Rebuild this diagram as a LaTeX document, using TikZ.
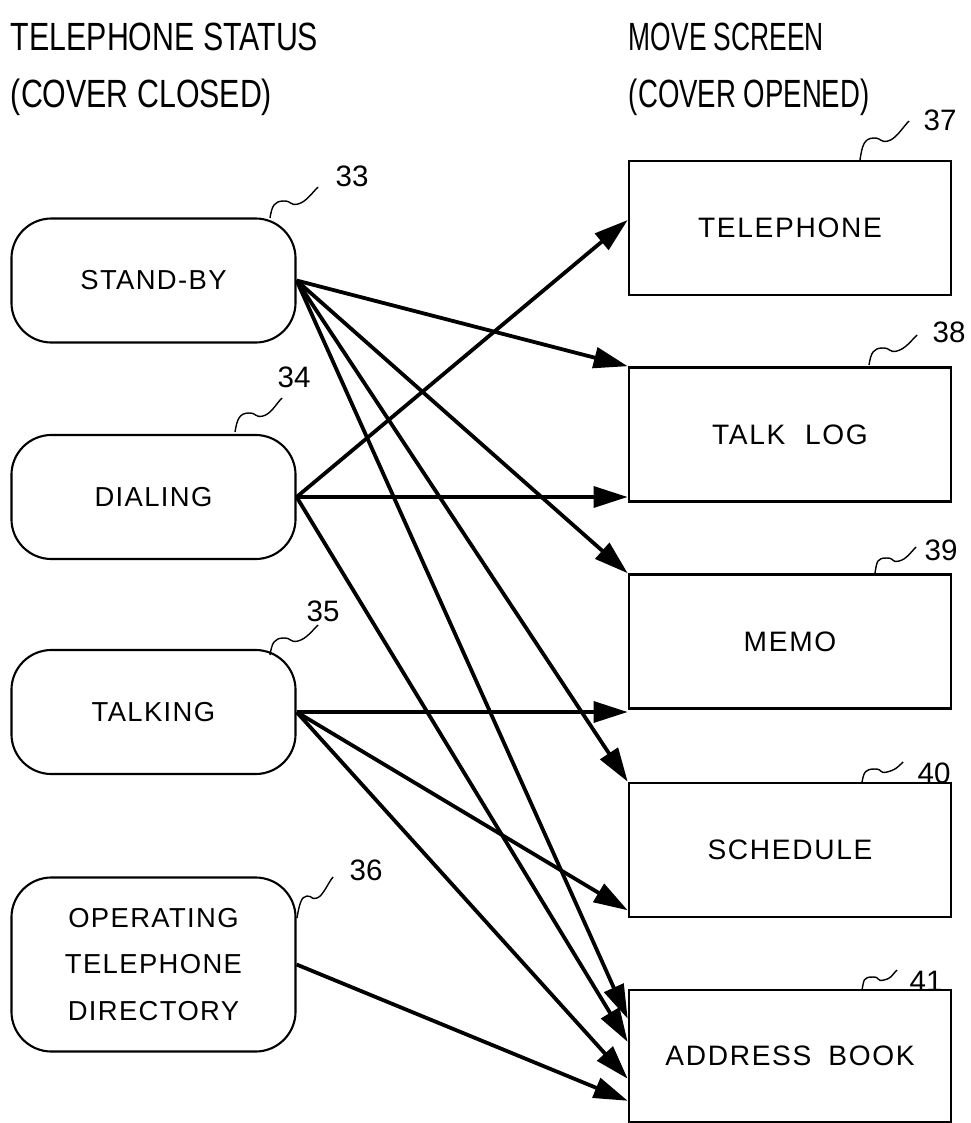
\documentclass[tikz,border=0pt]{standalone}
\usepackage{fontspec}
\setmainfont{Liberation Sans}
\usetikzlibrary{arrows.meta,calc,positioning}

\begin{document}
\begin{tikzpicture}[x=0.025cm,y=-0.025cm,
  state/.style={draw,line width=1.5pt,rounded corners=1cm,minimum width=7.1cm,minimum height=3.1cm,align=center,
    font=\fontsize{19.5}{33}\selectfont\addfontfeatures{LetterSpace=5}},
  screen/.style={draw,line width=1.8pt,minimum width=8.05cm,minimum height=3.35cm,
    font=\fontsize{20}{22}\selectfont\addfontfeatures{LetterSpace=6}},
  num/.style={font=\fontsize{21}{24}\selectfont},
  head/.style={anchor=west,font=\fontsize{28}{32}\selectfont},
  arr/.style={line width=2.7pt,-{Triangle[length=0.85cm,width=0.52cm]}},
  wave/.style={line width=1pt}]
  \useasboundingbox (0,0) rectangle (971,1123);

  \node[head] (st1) at (6,37) {\scalebox{0.77}[1]{TELEPHONE STATUS}};
  \node[head] (st2) at (6,97) {\scalebox{0.77}[1]{(COVER CLOSED)}};
  \node[head] (mv1) at (624,37) {\scalebox{0.67}[1]{MOVE SCREEN}};
  \node[head] (mv2) at (624,97) {\scalebox{0.7}[1]{(COVER OPENED)}};

  \node[state] (standby) at (153.5,280.5) {STAND-BY};
  \node[state] (dialing) at (153.5,497) {DIALING};
  \node[state] (talking) at (153.5,712) {TALKING};
  \node[state,minimum height=4.35cm] (directory) at (153.5,964.5) {OPERATING\\TELEPHONE\\DIRECTORY};

  \node[screen] (telephone) at (790,228) {TELEPHONE};
  \node[screen] (talklog) at (790,434.5) {TALK\hspace{0.7em}LOG};
  \node[screen] (memo) at (790,641.5) {MEMO};
  \node[screen] (schedule) at (790,850) {SCHEDULE};
  \node[screen,minimum height=3.3cm] (addrbook) at (790,1056) {ADDRESS\hspace{0.6em}BOOK};

  \node[num] (n33) at (352,176) {33};
  \node[num] (n34) at (294,377) {34};
  \node[num] (n35) at (323,611) {35};
  \node[num] (n36) at (366,870) {36};
  \node[num] (n37) at (940,120) {37};
  \node[num] (n38) at (949,332) {38};
  \node[num] (n39) at (941,550) {39};
  \node[num] (n40) at (934,773) {40};
  \node[num] (n41) at (926,981) {41};

  \draw[wave] (270,218) .. controls +(2,-12) and +(-10,0) .. ++(14,-17) .. controls +(8,0) and +(-8,2) .. ++(14,3) .. controls +(8,-2) and +(-6,6) .. ++(20,-17);
  \draw[wave] (235,432) .. controls +(2,-12) and +(-10,0) .. ++(14,-19) .. controls +(8,0) and +(-8,2) .. ++(14,3) .. controls +(8,-2) and +(-6,6) .. ++(19,-18);
  \draw[wave] (270,655) .. controls +(2,-12) and +(-10,0) .. ++(14,-17) .. controls +(8,0) and +(-8,2) .. ++(14,3) .. controls +(8,-2) and +(-6,6) .. ++(20,-16);
  \draw[wave] (297,918) .. controls +(2,-12) and +(-6,0) .. ++(10,-22) .. controls +(6,0) and +(-6,2) .. ++(10,2) .. controls +(6,-2) and +(-5,6) .. ++(16,-21);
  \draw[wave] (860,160) .. controls +(2,-14) and +(-10,0) .. ++(14,-22) .. controls +(8,0) and +(-8,2) .. ++(14,3) .. controls +(8,-2) and +(-6,6) .. ++(21,-20);
  \draw[wave] (869,365) .. controls +(2,-12) and +(-10,0) .. ++(14,-17) .. controls +(8,0) and +(-8,2) .. ++(14,3) .. controls +(8,-2) and +(-6,6) .. ++(20,-16);
  \draw[wave] (875,573) .. controls +(2,-12) and +(-10,0) .. ++(12,-15) .. controls +(8,0) and +(-8,2) .. ++(12,3) .. controls +(8,-2) and +(-6,6) .. ++(17,-14);
  \draw[wave] (862,782) .. controls +(2,-10) and +(-10,0) .. ++(13,-13) .. controls +(8,0) and +(-8,2) .. ++(12,3) .. controls +(8,-2) and +(-6,6) .. ++(16,-10);
  \draw[wave] (862,990) .. controls +(2,-10) and +(-10,0) .. ++(11,-13) .. controls +(8,0) and +(-8,2) .. ++(11,3) .. controls +(8,-2) and +(-6,6) .. ++(13,-10);

  \draw[arr] (standby.east) -- (talklog.north west);
  \draw[arr] (standby.east) -- (memo.north west);
  \draw[arr] (standby.east) -- (schedule.north west);
  \draw[arr] (standby.east) -- ([yshift=-0.75cm]addrbook.north west);
  \draw[arr] (dialing.east) -- ([yshift=0.2cm]telephone.west);
  \draw[arr] (dialing.east) -- (dialing.east -| talklog.west);
  \draw[arr] (dialing.east) -- ([yshift=-1.33cm]addrbook.north west);
  \draw[arr] (talking.east) -- (talking.east -| memo.west);
  \draw[arr] (talking.east) -- ([yshift=0.2cm]schedule.south west);
  \draw[arr] (talking.east) -- ([yshift=-2.25cm]addrbook.north west);
  \draw[arr] (directory.east) -- ([yshift=-2.8cm]addrbook.north west);
\end{tikzpicture}
\end{document}
